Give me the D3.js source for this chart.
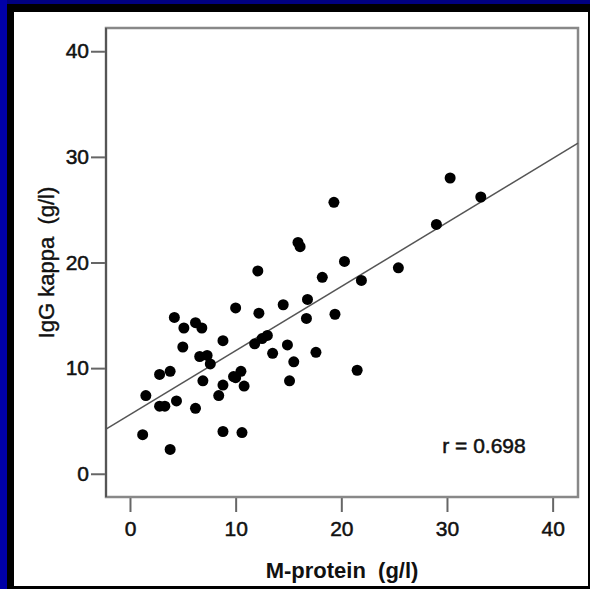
<!DOCTYPE html>
<html>
<head>
<meta charset="utf-8">
<script src="https://cdn.jsdelivr.net/npm/d3@7"></script>
<style>
  html, body { margin: 0; padding: 0; background: #000; }
  svg { display: block; }
  text { font-family: "Liberation Sans", Arial, sans-serif; fill: #111; }
</style>
</head>
<body>
<div id="viz"></div>
<script>
// M-protein (g/l) vs IgG kappa (g/l)
const mProtein = [4.2, 5.1, 6.2, 6.8, 5.0, 10.0, 12.1, 12.2, 8.8, 6.6, 7.3, 7.6, 2.8, 3.8,
    6.9, 8.8, 9.8, 10.5, 10.0, 10.8, 8.4, 1.5, 2.8, 3.3, 4.4, 6.2, 1.2, 3.8, 8.8, 10.6,
    11.8, 12.5, 13.0, 13.5, 14.5, 14.9, 15.5, 15.1, 16.8, 16.7, 18.2, 17.6, 19.4, 15.9,
    16.1, 20.3, 19.3, 21.9, 21.5, 25.4, 29.0, 30.3, 33.2]
const iggKappa = [14.8, 13.8, 14.3, 13.8, 12.0, 15.7, 19.2, 15.2, 12.6, 11.1, 11.2, 10.4, 9.4, 9.7,
    8.8, 8.4, 9.2, 9.7, 9.1, 8.3, 7.4, 7.4, 6.4, 6.4, 6.9, 6.2, 3.7, 2.3, 4.0, 3.9,
    12.3, 12.8, 13.1, 11.4, 16.0, 12.2, 10.6, 8.8, 16.5, 14.7, 18.6, 11.5, 15.1, 21.9,
    21.5, 20.1, 25.7, 18.3, 9.8, 19.5, 23.6, 28.0, 26.2]
const ticks = [0, 10, 20, 30, 40]
const xAxisLabel = 'M-protein  (g/l)',
    yAxisLabel = 'IgG kappa  (g/l)',
    rLabel = 'r = 0.698'
// fitted line as drawn in the picture
const fitIntercept = 5.6, fitSlope = 0.606

const w = 590, h = 589

const svg = d3.select('#viz')
    .append('svg')
    .attr('width', w)
    .attr('height', h)

// slide border: black, blue edges, white panel
svg.append('rect').attr('width', w).attr('height', h).attr('fill', '#000')
svg.append('rect').attr('width', w).attr('height', 4).attr('fill', '#000080')
svg.append('rect').attr('width', 7).attr('height', h).attr('fill', '#0000a8')
svg.append('rect')
    .attr('x', 14).attr('y', 12)
    .attr('width', 574).attr('height', 574)
    .attr('fill', '#fff')

const plot = { left: 106, right: 578, top: 28, bottom: 497 }

const x = d3.scaleLinear()
    .domain([-2.27, 42.4])
    .range([plot.left, plot.right])

const y = d3.scaleLinear()
    .domain([-2.2, 42.2])
    .range([plot.bottom, plot.top])

const xAxisG = svg.append('g')
    .attr('transform', `translate(0, ${plot.bottom})`)
    .call(d3.axisBottom(x).tickValues(ticks).tickSize(15).tickPadding(9))
const yAxisG = svg.append('g')
    .attr('transform', `translate(${plot.left}, 0)`)
    .call(d3.axisLeft(y).tickValues(ticks).tickSize(15).tickPadding(2))

;[xAxisG, yAxisG].forEach(g => {
    g.select('.domain').remove()
    g.selectAll('.tick line').attr('stroke', '#666').attr('stroke-width', 2)
    g.selectAll('.tick text')
        .attr('fill', '#111')
        .attr('stroke', '#111')
        .attr('stroke-width', 0.5)
        .style('font-size', '21px')
        .style('font-family', '"Liberation Sans", Arial, sans-serif')
})

// frame
svg.append('rect')
    .attr('x', plot.left).attr('y', plot.top)
    .attr('width', plot.right - plot.left)
    .attr('height', plot.bottom - plot.top)
    .attr('fill', 'none')
    .attr('stroke', '#888')
    .attr('stroke-width', 2.5)
svg.append('line')
    .attr('x1', plot.left).attr('x2', plot.left)
    .attr('y1', plot.top).attr('y2', plot.bottom)
    .attr('stroke', '#444')
    .attr('stroke-width', 1.5)

// regression line
const [x0, x1] = x.domain()
svg.append('line')
    .attr('x1', x(x0)).attr('y1', y(fitIntercept + fitSlope * x0))
    .attr('x2', x(x1)).attr('y2', y(fitIntercept + fitSlope * x1))
    .attr('stroke', '#555')
    .attr('stroke-width', 1.5)

const data = mProtein.map((d, i) => ({ m: d, k: iggKappa[i] }))

svg.selectAll('circle')
    .data(data)
    .enter()
    .append('circle')
    .attr('cx', d => x(d.m))
    .attr('cy', d => y(d.k))
    .attr('r', 5.5)
    .attr('fill', '#000')

svg.append('text')
    .attr('x', (plot.left + plot.right) / 2)
    .attr('y', 578)
    .attr('text-anchor', 'middle')
    .style('font-size', '22px')
    .style('font-weight', 'bold')
    .style('white-space', 'pre')
    .text(xAxisLabel)

svg.append('text')
    .attr('transform', `translate(54, ${(plot.top + plot.bottom) / 2}) rotate(-90)`)
    .attr('text-anchor', 'middle')
    .attr('stroke', '#111')
    .attr('stroke-width', 0.4)
    .style('font-size', '22px')
    .style('white-space', 'pre')
    .text(yAxisLabel)

svg.append('text')
    .attr('x', 484)
    .attr('y', 453)
    .attr('text-anchor', 'middle')
    .attr('stroke', '#111')
    .attr('stroke-width', 0.5)
    .style('font-size', '21px')
    .text(rLabel)
</script>
</body>
</html>
